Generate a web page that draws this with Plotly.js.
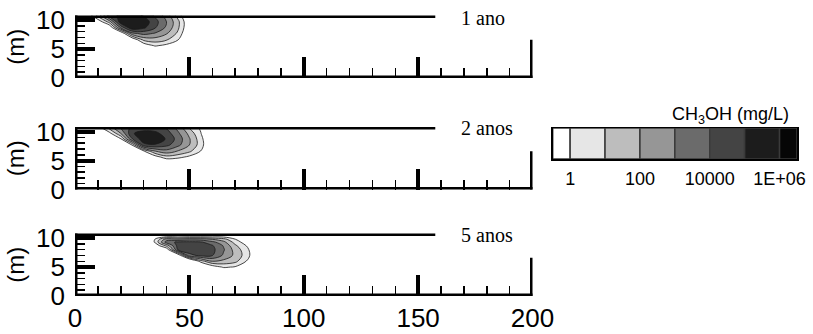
<!DOCTYPE html>
<html><head><meta charset="utf-8">
<script src="https://cdn.plot.ly/plotly-3.0.1.min.js"></script>
<style>html,body{margin:0;padding:0;background:#fff}#chart{width:813px;height:334px}</style>
</head><body><div id="chart"></div>
<script>
// ---------- data ----------
const panelLabels = ['1 ano', '2 anos', '5 anos'];
const xTickLabels = ['0', '50', '100', '150', '200'];
const yTickLabels = ['0', '5', '10'];

// log10 of CH3OH concentration (mg/L) on a coarse grid, per panel
const p1X = [0, 5, 10, 15, 20, 25, 30, 35, 40, 45, 50, 55];
const p1Y = [4.6, 5.6, 6.6, 7.7, 8.7, 9.7, 10.8];
const p1Z = [
  [-3, -3, -3, -3, -3, -3, -2.9, -1.6, -1.5, -2.5, -3, -3],
  [-3, -3, -3, -3, -3, -3, -0.85, 0.15, -0.3, -1.2, -2.5, -3],
  [-3, -3, -3, -3, -3, -1.15, 1.25, 1.55, 1.1, 0.05, -2, -3],
  [-3, -3, -3, -3, -1.25, 2.7, 3.35, 2.9, 2.1, 0.8, -1.4, -3],
  [-3, -2.5, -2.5, -1.2, 3.2, 5.9, 5.2, 4.1, 2.8, 1.2, -1.1, -3],
  [-3, -1.8, -0.9, 1.4, 5.7, 5.95, 5.6, 4.4, 3.0, 1.3, -1.1, -3],
  [-3, -1.1, 1.4, 4.6, 5.2, 5.4, 4.9, 3.8, 2.6, 0.6, -1.5, -3]
];

const p2X = [5, 10, 15, 20, 25, 30, 35, 40, 45, 50, 55, 60, 65];
const p2Y = [4.6, 5.6, 6.6, 7.7, 8.7, 9.7, 10.8];
const p2Z = [
  [-3, -3, -3, -3, -3, -3, -2.5, -1.5, -1.6, -2, -2.8, -3, -3],
  [-3, -3, -3, -3, -3, -2.4, -0.6, 0.6, 0.35, -0.3, -1.5, -2.8, -3],
  [-3, -3, -3, -3, -2.3, -0.25, 1.9, 2.6, 1.9, 1.2, -0.05, -2, -3],
  [-3, -3, -3, -2.5, 0.1, 4.7, 4.9, 4.3, 3.3, 2.0, 0.5, -1.6, -3],
  [-3, -3, -2.2, -0.2, 3.9, 5.6, 5.7, 4.9, 3.6, 2.1, 0.4, -1.7, -3],
  [-3, -2, -0.36, 2.0, 4.9, 5.4, 5.3, 4.5, 3.2, 1.7, 0.05, -2, -3],
  [-3, -0.4, 1.6, 3.3, 4.2, 4.4, 4.3, 3.8, 2.6, 0.8, -0.2, -2.2, -3]
];

const p3X = [30, 35, 40, 45, 50, 55, 60, 65, 70, 75, 80, 85];
const p3Y = [4.0, 5.0, 6.0, 7.0, 8.0, 8.7, 9.3, 9.8, 10.3, 10.8];
const p3Z = [
  [-3, -3, -3, -3, -3, -3, -2.5, -1.5, -1.5, -2.5, -3, -3],
  [-3, -3, -3, -3, -3, -2.5, -0.7, 0.15, -0.1, -1.2, -2.8, -3],
  [-3, -3, -3, -3, -2.5, 0.5, 2.0, 1.7, 1.3, -0.05, -1.8, -3],
  [-3, -3, -2.5, -1.2, 3.7, 4.2, 4.05, 2.8, 1.75, 0.5, -1.3, -3],
  [-2.6, -2, -0.9, 4.1, 4.55, 4.6, 4.3, 3.1, 1.6, 0.35, -1.4, -3],
  [-2.2, -0.8, 1.3, 4.4, 4.6, 4.6, 4.1, 2.9, 1.2, -0.05, -2, -3],
  [-1.9, 0.15, 3.5, 4.2, 4.25, 4.15, 3.3, 2.3, 0.6, -0.6, -2.2, -3],
  [-2.0, 0.05, 2.5, 2.2, 2.6, 2.5, 2.0, 1.4, 0.05, -1.1, -2.6, -3],
  [-2.4, -1.2, -0.4, -0.5, -0.4, -0.4, -0.4, -0.4, -0.9, -1.8, -2.8, -3],
  [-3, -2.5, -2.2, -2.3, -2.4, -2.4, -2.4, -2.4, -2.5, -2.6, -3, -3]
];

// legend: band edges in log10(mg/L) and band colours
const bandEdges = [-0.5, 0, 1, 2, 3, 4, 5, 6, 6.5];
const bandColors = ['#ffffff', '#e6e6e6', '#bdbdbd', '#969696', '#6b6b6b', '#444444', '#1c1c1c', '#060606'];
const legendTickVals = [0, 2, 4, 6];
const legendTickText = ['1', '100', '10000', '1E+06'];

// ---------- frame (model boundary) ----------
const X_MAX = 200, Y_TOP = 10.8, TOP_LINE_END = 157.5, RIGHT_LINE_TOP = 6.6;

// ---------- build ----------
const nB = bandColors.length;
const stepScale = [];
bandColors.forEach((c, k) => {
  const lo = k === 0 ? 0 : (k - 0.5) / (nB - 1);
  const hi = k === nB - 1 ? 1 : (k + 0.5) / (nB - 1);
  stepScale.push([lo, c], [hi, c]);
});

const panels = [[p1X, p1Y, p1Z], [p2X, p2Y, p2Z], [p3X, p3Y, p3Z]];
const suffix = ['', '2', '3'];
const traces = panels.map((p, i) => ({
  type: 'contour', x: p[0], y: p[1], z: p[2],
  xaxis: 'x' + suffix[i], yaxis: 'y' + suffix[i],
  autocontour: false,
  contours: {start: 0, end: 6, size: 1, coloring: 'fill', showlines: true},
  line: {color: '#1a1a1a', width: 0.8, smoothing: 1},
  colorscale: stepScale, showscale: false, hoverinfo: 'skip'
}));

const centers = [], widths = [];
for (let k = 0; k < bandColors.length; k++) {
  centers.push((bandEdges[k] + bandEdges[k + 1]) / 2);
  widths.push(bandEdges[k + 1] - bandEdges[k]);
}
traces.push({
  type: 'bar', x: centers, y: bandColors.map(() => 1), width: widths,
  xaxis: 'x4', yaxis: 'y4',
  marker: {color: bandColors, line: {color: '#3a3a3a', width: 1.5}},
  hoverinfo: 'skip'
});

const H = 334, L = 75, R = 16, W = 813;
const pw = W - L - R;
const px2x = p => (p - L) / pw;
const py2y = p => 1 - p / H;
const mainX = [0, px2x(532.5)];
const panelPx = [[15.5, 78], [127, 189.5], [233.5, 296]];

const font = 'Liberation Sans, Arial, sans-serif';
function xAx(anchor, labels) {
  return {
    domain: mainX, anchor: anchor, range: [0, X_MAX],
    tickmode: 'array', tickvals: xTickLabels.map(Number), ticktext: xTickLabels,
    ticks: 'inside', ticklen: 21, tickwidth: 4, tickcolor: '#000',
    showticklabels: labels, ticklabelstandoff: 4,
    tickfont: {family: font, size: 26, color: '#000'},
    minor: {tickmode: 'linear', tick0: 0, dtick: 10, ticks: 'inside', ticklen: 10, tickwidth: 1.5, tickcolor: '#000', showgrid: false},
    showgrid: false, zeroline: false, showline: false
  };
}
function yAx(anchor, dom) {
  return {
    domain: dom, anchor: anchor, range: [0, Y_TOP],
    tickmode: 'array', tickvals: yTickLabels.map(Number), ticktext: yTickLabels,
    ticks: 'inside', ticklen: 20, tickwidth: 4, tickcolor: '#000',
    ticklabelstandoff: 9,
    tickfont: {family: font, size: 26, color: '#000'},
    minor: {tickmode: 'linear', tick0: 0, dtick: 1, ticks: 'inside', ticklen: 10, tickwidth: 1.5, tickcolor: '#000', showgrid: false},
    title: {text: '(m)', font: {family: font, size: 24, color: '#000'}, standoff: 4},
    showgrid: false, zeroline: false, showline: false
  };
}

const layout = {
  width: W, height: H, margin: {l: L, r: R, t: 0, b: 0},
  paper_bgcolor: '#fff', plot_bgcolor: 'rgba(0,0,0,0)', showlegend: false,
  xaxis: xAx('y', false), xaxis2: xAx('y2', false), xaxis3: xAx('y3', true),
  yaxis: yAx('x', [py2y(panelPx[0][1]), py2y(panelPx[0][0])]),
  yaxis2: yAx('x2', [py2y(panelPx[1][1]), py2y(panelPx[1][0])]),
  yaxis3: yAx('x3', [py2y(panelPx[2][1]), py2y(panelPx[2][0])]),
  xaxis4: {
    domain: [px2x(552.7), 1], anchor: 'y4', range: [bandEdges[0], bandEdges[bandEdges.length - 1]],
    tickmode: 'array', tickvals: legendTickVals, ticktext: legendTickText, ticks: '',
    tickfont: {family: font, size: 18, color: '#000'}, ticklabelstandoff: 3,
    showline: true, mirror: true, linecolor: '#000', linewidth: 1.5,
    showgrid: false, zeroline: false
  },
  yaxis4: {
    domain: [py2y(159), py2y(128)], anchor: 'x4', range: [0, 1],
    showticklabels: false, ticks: '', showline: true, mirror: true, linecolor: '#000', linewidth: 1.5,
    showgrid: false, zeroline: false
  },
  bargap: 0,
  shapes: [], annotations: []
};

const lw = 5, ex = 1.1, ey = 0.43;
suffix.forEach((s, i) => {
  const xr = 'x' + s, yr = 'y' + s;
  const ln = {color: '#000', width: lw};
  layout.shapes.push(
    {type: 'line', xref: xr, yref: yr, x0: 0, x1: 0, y0: -ey, y1: Y_TOP + ey, line: ln, layer: 'above'},
    {type: 'line', xref: xr, yref: yr, x0: -ex, x1: X_MAX + ex, y0: 0, y1: 0, line: ln, layer: 'above'},
    {type: 'line', xref: xr, yref: yr, x0: -ex, x1: TOP_LINE_END, y0: Y_TOP, y1: Y_TOP, line: ln, layer: 'above'},
    {type: 'line', xref: xr, yref: yr, x0: X_MAX, x1: X_MAX, y0: -ey, y1: RIGHT_LINE_TOP, line: ln, layer: 'above'}
  );
  layout.annotations.push({
    text: panelLabels[i], xref: xr, yref: yr, x: 168, y: [10.4, 10.6, 10.5][i],
    xanchor: 'left', yanchor: 'middle', showarrow: false,
    font: {family: 'Liberation Serif, Times New Roman, serif', size: 20, color: '#000'}
  });
});
layout.annotations.push({
  text: 'CH<sub>3</sub>OH (mg/L)', xref: 'paper', yref: 'paper',
  x: px2x(791), y: py2y(115), xanchor: 'right', yanchor: 'middle', showarrow: false,
  font: {family: font, size: 18, color: '#000'}
});

Plotly.newPlot('chart', traces, layout, {staticPlot: true, displayModeBar: false});
</script></body></html>
